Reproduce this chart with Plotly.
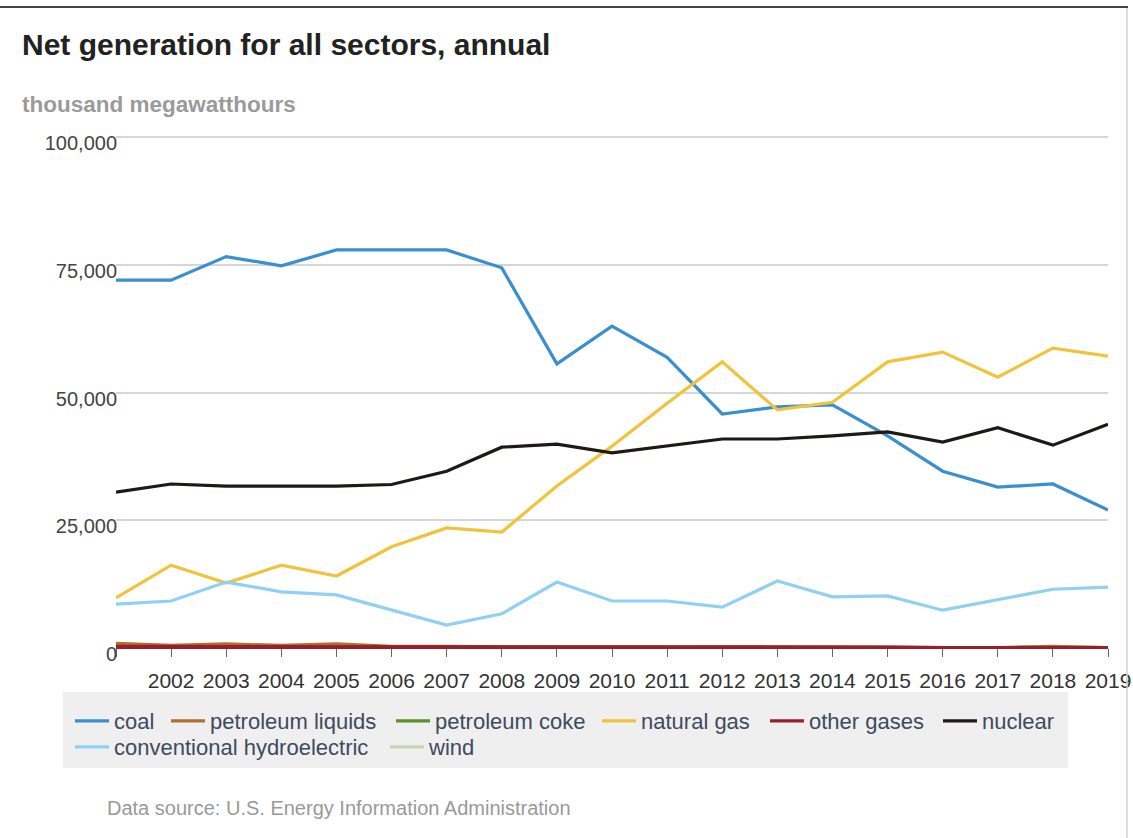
import plotly.graph_objects as go

# Annual net generation, all sectors (thousand megawatthours)
years = list(range(2001, 2020))
year_labels = [""] + [str(y) for y in range(2002, 2020)]

coal = [72.0, 72.0, 76.6, 74.8, 77.9, 77.9, 77.9, 74.4, 55.6, 63.0, 56.9, 45.8,
        47.2, 47.6, 41.5, 34.6, 31.5, 32.1, 27.0]
petroleum_liquids = [0.9, 0.5, 0.8, 0.5, 0.8, 0.3, 0.3, 0.2, 0.2, 0.2, 0.2, 0.2,
                     0.2, 0.3, 0.2, 0.1, 0.1, 0.3, 0.1]
petroleum_coke = [0.2, 0.2, 0.2, 0.2, 0.2, 0.2, 0.2, 0.2, 0.1, 0.1, 0.1, 0.1,
                  0.1, 0.1, 0.1, 0.1, 0.1, 0.1, 0.1]
natural_gas = [9.8, 16.2, 12.7, 16.2, 14.1, 19.8, 23.5, 22.7, 31.7, 39.5, 47.9, 56.0,
               46.6, 48.1, 56.0, 57.9, 53.0, 58.7, 57.1]
other_gases = [0.3, 0.3, 0.3, 0.3, 0.3, 0.3, 0.3, 0.3, 0.3, 0.3, 0.3, 0.3,
               0.3, 0.3, 0.2, 0.1, 0.1, 0.1, 0.1]
nuclear = [30.5, 32.1, 31.7, 31.7, 31.7, 32.0, 34.6, 39.3, 39.9, 38.2, 39.5, 40.9,
           40.9, 41.5, 42.3, 40.3, 43.1, 39.7, 43.8]
hydro = [8.6, 9.2, 12.9, 11.0, 10.4, 7.4, 4.5, 6.7, 12.9, 9.2, 9.2, 8.0,
         13.1, 10.0, 10.2, 7.4, 9.4, 11.5, 11.9]
wind = [None] * len(years)

y_ticks = [0, 25000, 50000, 75000, 100000]
y_tick_labels = ["0", "25,000", "50,000", "75,000", "100,000"]

# (name, values, colour)
series = [
    ("coal", coal, "#3a8fcf"),
    ("petroleum liquids", petroleum_liquids, "#b06f2c"),
    ("petroleum coke", petroleum_coke, "#5d8f2b"),
    ("natural gas", natural_gas, "#f0c43a"),
    ("other gases", other_gases, "#9a1f2c"),
    ("nuclear", nuclear, "#1e1a12"),
    ("conventional hydroelectric", hydro, "#8fd0f3"),
    ("wind", wind, "#c4d6b3"),
]

# legend entry placement (left edge of swatch, top of row) in px
legend_slots = [(76, 700), (172, 700), (397, 700), (603, 700), (771, 700),
                (944, 700), (76, 726), (391, 726)]

# plot area: x 116..1108 px, y 135..648 px (a little headroom above 100,000
# so its gridline is kept)
L, R, T, B = 116, 25, 135, 190
W, H = 1133, 838
pw, ph = W - L - R, H - T - B


def px_x(x):
    return (x - L) / pw


def px_y(y):
    return (H - B - y) / ph


legend_style = dict(
    orientation="h",
    xanchor="left", yanchor="top",
    bgcolor="rgba(0,0,0,0)",
    font=dict(size=22, color="#3e4a5e"),
    itemwidth=34,
    itemclick=False,
    itemdoubleclick=False,
)

fig = go.Figure()
legends = {}
for i, ((name, vals, color), (lx, ly)) in enumerate(zip(series, legend_slots)):
    key = "legend" if i == 0 else f"legend{i + 1}"
    legends[key] = dict(legend_style, x=px_x(lx - 6), y=px_y(ly))
    fig.add_trace(go.Scatter(
        x=years,
        y=[None if v is None else v * 1000 for v in vals],
        name=name,
        legend=key,
        mode="lines",
        line=dict(color=color, width=3.2),
        hovertemplate="%{x}: %{y:,.0f}<extra>" + name + "</extra>",
    ))

fig.update_layout(
    width=W, height=H,
    margin=dict(l=L, r=R, t=T, b=B, autoexpand=False),
    paper_bgcolor="white",
    plot_bgcolor="white",
    font=dict(family="Liberation Sans, Arial, sans-serif", color="#444"),
    showlegend=True,
    xaxis=dict(
        range=[2001, 2019],
        automargin=False,
        tickmode="array",
        tickvals=years,
        ticktext=year_labels,
        ticks="outside",
        ticklen=8,
        tickwidth=1,
        tickcolor="#666",
        tickfont=dict(size=21, color="#333"),
        ticklabelstandoff=6,
        showgrid=False,
        showline=True,
        linecolor="#9a1f2c",
        linewidth=1,
        zeroline=False,
        fixedrange=True,
    ),
    yaxis=dict(
        range=[0, 100400],
        automargin=False,
        tickmode="array",
        tickvals=y_ticks,
        ticktext=y_tick_labels,
        ticks="",
        tickfont=dict(size=20, color="#444"),
        ticklabelshift=6,
        ticklabelstandoff=-2,
        showgrid=True,
        gridcolor="#d6d6d6",
        gridwidth=2,
        zeroline=False,
        showline=False,
        fixedrange=True,
    ),
    annotations=[
        dict(text="<b>Net generation for all sectors, annual</b>",
             xref="paper", yref="paper", x=px_x(20), y=px_y(45),
             xanchor="left", yanchor="middle", showarrow=False,
             font=dict(size=30, color="#222")),
        dict(text="<b>thousand megawatthours</b>",
             xref="paper", yref="paper", x=px_x(20), y=px_y(104),
             xanchor="left", yanchor="middle", showarrow=False,
             font=dict(size=22.5, color="#9a9a9a")),
        dict(text="Data source: U.S. Energy Information Administration",
             xref="paper", yref="paper", x=px_x(105), y=px_y(808),
             xanchor="left", yanchor="middle", showarrow=False,
             font=dict(size=20, color="#999")),
    ],
    shapes=[
        # legend background panel
        dict(type="rect", xref="paper", yref="paper", layer="below",
             x0=px_x(63), x1=px_x(1068), y0=px_y(692), y1=px_y(768),
             fillcolor="#efefef", line=dict(width=0)),
        # frame lines
        dict(type="line", xref="paper", yref="paper",
             x0=px_x(0), x1=px_x(1128), y0=px_y(7), y1=px_y(7),
             line=dict(color="#444", width=2)),
        dict(type="line", xref="paper", yref="paper",
             x0=px_x(1127), x1=px_x(1127), y0=px_y(8), y1=px_y(838),
             line=dict(color="#d0d0d0", width=1.5)),
    ],
    **legends,
)

fig.write_html("out.html", config={"displayModeBar": False})
